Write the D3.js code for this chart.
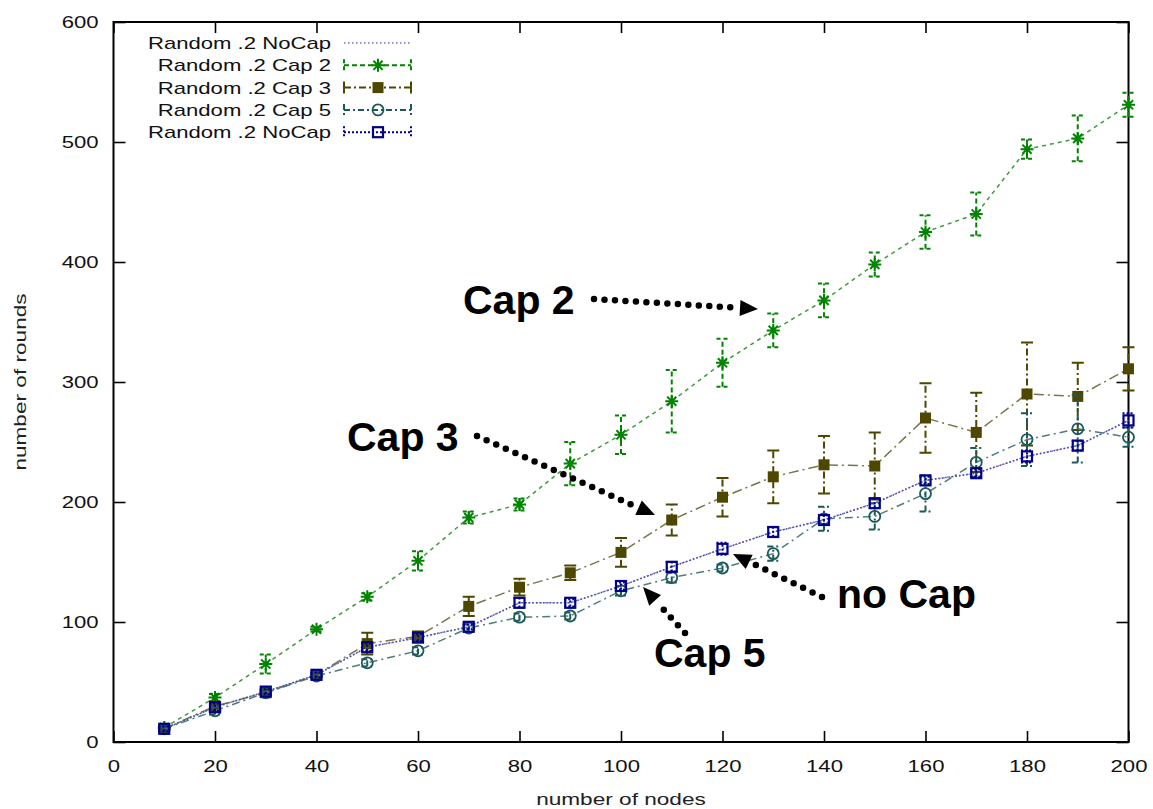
<!DOCTYPE html>
<html>
<head>
<meta charset="utf-8">
<script src="https://cdn.jsdelivr.net/npm/d3@7"></script>
<style>
  body { margin: 0; background: #fff; }
  svg text { font-family: "Liberation Sans", Arial, sans-serif; }
</style>
</head>
<body>
<svg id="chart" width="1153" height="809"></svg>
<script>
// values
const nodes = [10, 20, 30, 40, 50, 60, 70, 80, 90, 100, 110, 120, 130, 140, 150, 160, 170, 180, 190, 200]
const cap2 = [12, 37, 65, 94, 121, 151, 187, 198, 232, 256, 284, 316, 343, 368, 398, 425, 440, 494, 503, 531]
const cap2Err = [1, 3, 8, 2, 3, 8, 5, 5, 18, 16, 26, 20, 14, 14, 10, 14, 18, 8, 19, 10]
const cap3 = [11, 30, 41, 56, 82, 88, 113, 129, 141, 158, 185, 204, 221, 231, 230, 270, 258, 290, 288, 311]
const cap3Err = [1, 2, 2, 2, 9, 4, 8, 7, 6, 12, 13, 16, 22, 24, 28, 29, 33, 43, 28, 18]
const cap5 = [11, 26, 41, 55, 66, 76, 95, 104, 105, 126, 137, 145, 157, 186, 188, 207, 233, 252, 261, 254]
const cap5Err = [2, 3, 2, 2, 3, 3, 3, 3, 3, 4, 4, 3, 6, 10, 11, 15, 12, 22, 28, 8]
const noCap = [11, 29, 42, 56, 79, 87, 96, 116, 116, 130, 146, 161, 175, 185, 199, 218, 224, 238, 247, 268]
const noCapErr = [2, 3, 2, 2, 3, 3, 2, 4, 3, 3, 4, 5, 4, 4, 4, 3, 3, 5, 4, 6]
const xTicks = [0, 20, 40, 60, 80, 100, 120, 140, 160, 180, 200]
const yTicks = [0, 100, 200, 300, 400, 500, 600]

const notes = [
    { label: 'Cap 2', tx: 463, ty: 314, from: [594, 299], to: [758, 309] },
    { label: 'Cap 3', tx: 347, ty: 451, from: [477, 436], to: [655, 515] },
    { label: 'no Cap', tx: 837, ty: 608, from: [822, 597], to: [733, 554] },
    { label: 'Cap 5', tx: 654, ty: 667, from: [685, 633], to: [643, 587] },
]

const series = [
    { name: 'Random .2 NoCap', vals: noCap, err: null, color: '#7272c2', line: '#7272c2', dash: '1.5,2.5', barDash: null, capDash: null, marker: null },
    { name: 'Random .2 Cap 2', vals: cap2, err: cap2Err, color: '#008400', line: '#3f9a3f', dash: '4,4', barDash: '5,3', capDash: '4,3', marker: 'star' },
    { name: 'Random .2 Cap 3', vals: cap3, err: cap3Err, color: '#4d4700', line: '#78744c', dash: '10,4,2,4', barDash: '7,3,2,3', capDash: null, marker: 'fsq' },
    { name: 'Random .2 Cap 5', vals: cap5, err: cap5Err, color: '#1c5a5a', line: '#4f7c7c', dash: '8,4,2,4', barDash: '6,3,2,3', capDash: '6,3,2,3', marker: 'circ' },
    { name: 'Random .2 NoCap', vals: noCap, err: noCapErr, color: '#00008a', line: '#4a4aae', dash: '1.5,2', barDash: '2,2', capDash: '2,2', marker: 'osq' },
]

const svg = d3.select('#chart')
const x = d3.scaleLinear().domain([0, 200]).range([113.5, 1128.5])
const y = d3.scaleLinear().domain([0, 600]).range([742, 22])

// gnuplot output was stretched sideways, so text is widened a bit
function stretch(sel, k) {
    sel.each(function () {
        let w = this.getComputedTextLength()
        d3.select(this).attr('textLength', w * k).attr('lengthAdjust', 'spacingAndGlyphs')
    })
}

// axes with inward ticks, mirrored on top and right
let gx = svg.append('g').attr('transform', `translate(0,${y(0)})`)
    .call(d3.axisBottom(x).tickValues(xTicks).tickSizeInner(-11).tickSizeOuter(0).tickPadding(18))
let gy = svg.append('g').attr('transform', `translate(${x(0)},0)`)
    .call(d3.axisLeft(y).tickValues(yTicks).tickSizeInner(-12).tickSizeOuter(0).tickPadding(15))
svg.append('g').attr('transform', `translate(0,${y(600)})`)
    .call(d3.axisTop(x).tickValues(xTicks).tickSizeInner(-11).tickSizeOuter(0).tickFormat(''))
svg.append('g').attr('transform', `translate(${x(200)},0)`)
    .call(d3.axisRight(y).tickValues(yTicks).tickSizeInner(-12).tickSizeOuter(0).tickFormat(''))

svg.selectAll('.domain').remove()
svg.selectAll('.tick line').attr('stroke', '#000').attr('stroke-width', 1.6)
svg.selectAll('.tick text').attr('fill', '#111').style('font-size', '17px')
stretch(gx.selectAll('.tick text'), 1.3)
stretch(gy.selectAll('.tick text'), 1.3)

svg.append('rect')
    .attr('x', x(0)).attr('y', y(600))
    .attr('width', x(200) - x(0)).attr('height', y(0) - y(600))
    .attr('fill', 'none').attr('stroke', '#000').attr('stroke-width', 2)

let xl = svg.append('text').attr('x', (x(0) + x(200)) / 2).attr('y', 805)
    .attr('text-anchor', 'middle').style('font-size', '17px').attr('fill', '#222')
    .text('number of nodes')
stretch(xl, 1.33)
let yl = svg.append('text').attr('transform', `translate(26,${(y(0) + y(600)) / 2}) rotate(-90)`)
    .attr('text-anchor', 'middle').style('font-size', '17px').attr('fill', '#222')
    .text('number of rounds')
stretch(yl, 1.33)

// markers
function drawMarker(g, type, color) {
    if (type === 'star') {
        g.append('path').attr('d', 'M-6.5,0H6.5M0,-6.5V6.5M-4.6,-4.6L4.6,4.6M-4.6,4.6L4.6,-4.6')
            .attr('stroke', color).attr('stroke-width', 2).attr('fill', 'none')
    } else if (type === 'fsq') {
        g.append('rect').attr('x', -5.5).attr('y', -5.5).attr('width', 11).attr('height', 11)
            .attr('fill', color)
    } else if (type === 'circ') {
        g.append('circle').attr('r', 5.5).attr('fill', 'none').attr('stroke', color).attr('stroke-width', 1.8)
    } else if (type === 'osq') {
        g.append('rect').attr('x', -5).attr('y', -5).attr('width', 10).attr('height', 10)
            .attr('fill', 'none').attr('stroke', color).attr('stroke-width', 2.2)
    }
}

const line = d3.line().x(d => x(d[0])).y(d => y(d[1]))
const plot = svg.append('g')

series.forEach(s => {
    let pts = nodes.map((n, i) => [n, s.vals[i], s.err ? s.err[i] : 0])
    let g = plot.append('g')
    g.append('path').datum(pts).attr('d', line)
        .attr('fill', 'none').attr('stroke', s.line).attr('stroke-width', 1.5)
        .attr('stroke-dasharray', s.dash)
    if (!s.err) return
    let bars = g.selectAll('.bar').data(pts).enter().append('g')
    bars.append('path')
        .attr('d', d => `M${x(d[0])},${y(d[1] - d[2])}V${y(d[1] + d[2])}`)
        .attr('fill', 'none').attr('stroke', s.color).attr('stroke-width', 2)
        .attr('stroke-dasharray', s.barDash)
    bars.append('path')
        .attr('d', d => `M${x(d[0]) - 6},${y(d[1] - d[2])}H${x(d[0]) + 6}` +
            `M${x(d[0]) - 6},${y(d[1] + d[2])}H${x(d[0]) + 6}`)
        .attr('fill', 'none').attr('stroke', s.color).attr('stroke-width', 2)
        .attr('stroke-dasharray', s.capDash)
    bars.each(function (d) {
        let m = d3.select(this).append('g').attr('transform', `translate(${x(d[0])},${y(d[1])})`)
        drawMarker(m, s.marker, s.color)
    })
})

// legend
const legend = svg.append('g')
series.forEach((s, i) => {
    let cy = 43 + i * 22.3
    let t = legend.append('text').attr('x', 331).attr('y', cy + 6)
        .attr('text-anchor', 'end').style('font-size', '17px').attr('fill', '#111')
        .text(s.name)
    stretch(t, 1.3)
    legend.append('line').attr('x1', 344).attr('x2', 411).attr('y1', cy).attr('y2', cy)
        .attr('stroke', s.err ? s.color : s.line).attr('stroke-width', s.err ? 2 : 1.5)
        .attr('stroke-dasharray', s.err ? s.barDash : s.dash)
    if (s.err) {
        legend.append('path').attr('d', `M344,${cy - 6}V${cy + 6}M411,${cy - 6}V${cy + 6}`)
            .attr('stroke', s.color).attr('stroke-width', 2).attr('stroke-dasharray', s.capDash)
        drawMarker(legend.append('g').attr('transform', `translate(378,${cy})`), s.marker, s.color)
    }
})

// annotations
const ann = svg.append('g')
notes.forEach(n => {
    ann.append('text').attr('x', n.tx).attr('y', n.ty)
        .style('font-size', '41px').style('font-weight', 'bold').attr('fill', '#000')
        .text(n.label)
    let dx = n.to[0] - n.from[0], dy = n.to[1] - n.from[1]
    let len = Math.hypot(dx, dy), ux = dx / len, uy = dy / len
    let head = 18
    let bx = n.to[0] - ux * head, by = n.to[1] - uy * head
    ann.append('line').attr('x1', n.from[0]).attr('y1', n.from[1])
        .attr('x2', bx - ux * 4).attr('y2', by - uy * 4)
        .attr('stroke', '#000').attr('stroke-width', 6.5)
        .attr('stroke-linecap', 'round').attr('stroke-dasharray', '0,10.5')
    let px = -uy * 8, py = ux * 8
    ann.append('path')
        .attr('d', `M${n.to[0]},${n.to[1]}L${bx + px},${by + py}L${bx - px},${by - py}Z`)
        .attr('fill', '#000')
})
</script>
</body>
</html>
